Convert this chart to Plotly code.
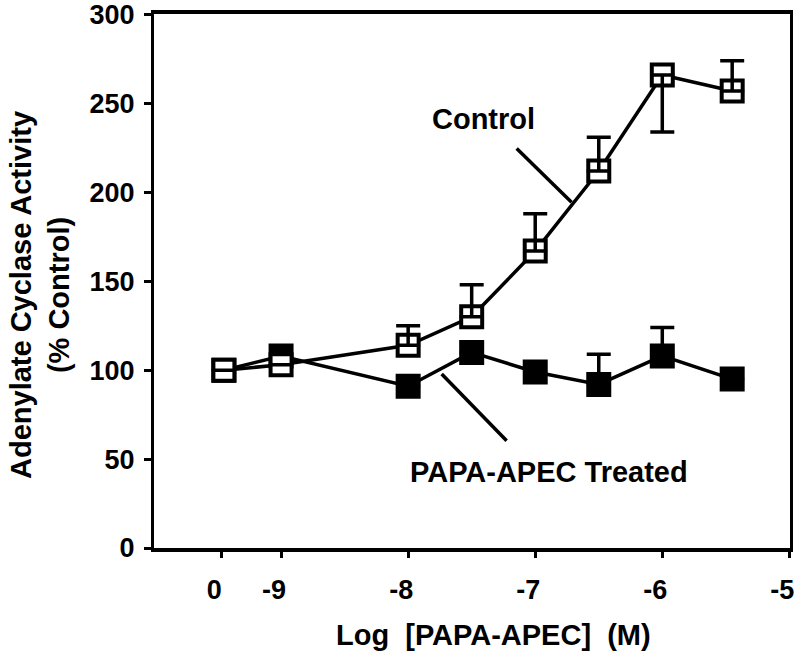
import plotly.graph_objects as go

# ---- data ----
x_control = [-9.45, -9.0, -8.0, -7.5, -7.0, -6.5, -6.0, -5.45]
y_control = [100, 103, 114, 130, 167, 212, 266, 257]
err_control_plus = [0, 0, 11, 18, 21, 19, 0, 17]
err_control_minus = [0, 0, 0, 0, 0, 0, 32, 0]

x_treated = [-9.45, -9.0, -8.0, -7.5, -7.0, -6.5, -6.0, -5.45]
y_treated = [100, 108, 91, 110, 99, 92, 108, 95]
err_treated_plus = [0, 0, 0, 0, 0, 17, 16, 0]
err_treated_minus = [0, 0, 0, 0, 0, 0, 0, 0]

x_tickvals = [-9.47, -9, -8, -7, -6, -5]
x_ticktext = ["0", "-9", "-8", "-7", "-6", "-5"]
y_tickvals = [0, 50, 100, 150, 200, 250, 300]

FONT = "Liberation Sans, Arial, Helvetica, sans-serif"
W, H = 800, 659
ML, MR, MT, MB = 154, 10, 14, 111

fig = go.Figure()

# PAPA-APEC treated (filled squares)
fig.add_trace(go.Scatter(
    x=x_treated, y=y_treated, mode="lines+markers",
    line=dict(color="black", width=3.5),
    marker=dict(symbol="square", size=23, color="black",
                line=dict(color="black", width=2)),
    showlegend=False, cliponaxis=False,
))
fig.add_trace(go.Scatter(
    x=x_treated, y=y_treated, mode="markers",
    marker=dict(size=2, opacity=0),
    error_y=dict(type="data", symmetric=False, array=err_treated_plus,
                 arrayminus=err_treated_minus, color="black",
                 thickness=3.5, width=12),
    showlegend=False, cliponaxis=False,
))

# Control (open squares)
fig.add_trace(go.Scatter(
    x=x_control, y=y_control, mode="lines+markers",
    line=dict(color="black", width=3.5),
    marker=dict(symbol="square", size=21, color="white",
                line=dict(color="black", width=4)),
    showlegend=False, cliponaxis=False,
))
fig.add_trace(go.Scatter(
    x=x_control, y=y_control, mode="markers",
    marker=dict(size=2, opacity=0),
    error_y=dict(type="data", symmetric=False, array=err_control_plus,
                 arrayminus=err_control_minus, color="black",
                 thickness=3.5, width=12),
    showlegend=False, cliponaxis=False,
))

# pointer lines for labels
fig.add_shape(type="line", x0=-7.146, y0=224.6, x1=-6.714, y1=194.4,
              line=dict(color="black", width=3.5), xref="x", yref="y")
fig.add_shape(type="line", x0=-7.736, y0=97.8, x1=-7.225, y1=60.3,
              line=dict(color="black", width=3.5), xref="x", yref="y")

fig.add_annotation(x=-7.406, y=241.5, text="Control", showarrow=False,
                   font=dict(family=FONT, size=29, color="black", weight="bold"),
                   xanchor="center", yanchor="middle")
fig.add_annotation(x=-6.895, y=43, text="PAPA-APEC Treated", showarrow=False,
                   font=dict(family=FONT, size=29, color="black", weight="bold"),
                   xanchor="center", yanchor="middle")


def px_to_paper(px, py):
    return (px - ML) / (W - ML - MR), (H - py - MB) / (H - MT - MB)


tx, ty = px_to_paper(493, 635)
fig.add_annotation(x=tx, y=ty, xref="paper", yref="paper",
                   text="Log\u00a0\u00a0[PAPA-APEC]\u00a0\u00a0(M)", showarrow=False,
                   font=dict(family=FONT, size=29, color="black", weight="bold"),
                   xanchor="center", yanchor="middle")
yx, yy = px_to_paper(40, 295)
fig.add_annotation(x=yx, y=yy, xref="paper", yref="paper",
                   text="Adenylate Cyclase Activity<br>(% Control)", showarrow=False,
                   textangle=-90,
                   font=dict(family=FONT, size=29, color="black", weight="bold"),
                   xanchor="center", yanchor="middle")

fig.update_layout(
    width=W, height=H,
    margin=dict(l=ML, r=MR, t=MT, b=MB, autoexpand=False),
    plot_bgcolor="white", paper_bgcolor="white",
    showlegend=False,
    font=dict(family=FONT, size=27, color="black", weight="bold"),
    xaxis=dict(
        range=[-10, -4.995], tickvals=x_tickvals, ticktext=x_ticktext,
        showgrid=False, zeroline=False, automargin=False,
        showline=True, linecolor="black", linewidth=4, mirror=True,
        ticks="outside", ticklen=6, tickwidth=2.5, tickcolor="black",
        ticklabelstandoff=9, ticklabelshift=-7, ticklabeloverflow="allow",
        tickfont=dict(family=FONT, size=27, color="black", weight="bold"),
    ),
    yaxis=dict(
        range=[0, 300.3], tickvals=y_tickvals,
        showgrid=False, zeroline=False, automargin=False,
        showline=True, linecolor="black", linewidth=3, mirror=True,
        ticks="outside", ticklen=7, tickwidth=2.5, tickcolor="black",
        ticklabelstandoff=4, ticklabeloverflow="allow",
        tickfont=dict(family=FONT, size=27, color="black", weight="bold"),
    ),
)

fig.write_html(
    "out.html",
    config={"displayModeBar": False},
    post_script="document.body.style.margin='0';document.body.style.padding='0';",
)
